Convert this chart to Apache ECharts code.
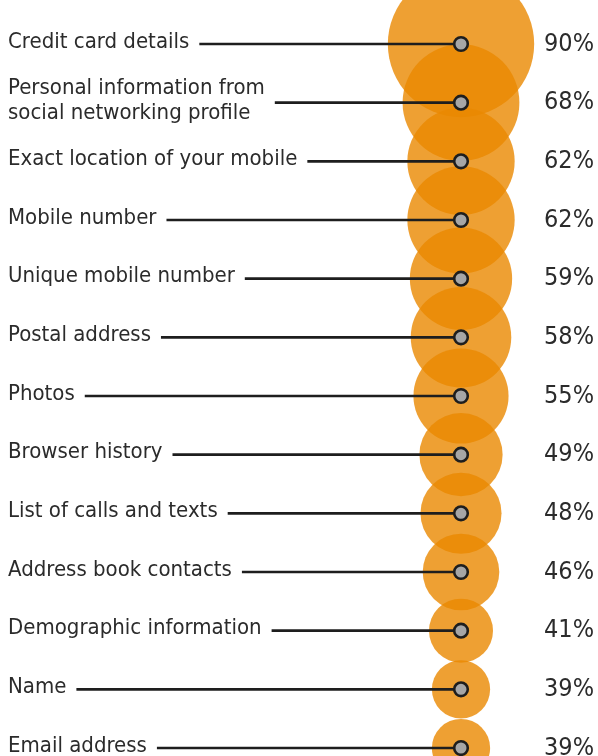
<!DOCTYPE html>
<html>
<head>
<meta charset="utf-8">
<script src="https://cdn.jsdelivr.net/npm/echarts@6/dist/echarts.min.js"></script>
<style>
html,body{margin:0;padding:0;background:#fff;}
#chart{width:598px;height:756px;}
</style>
</head>
<body>
<div id="chart"></div>
<script>
const categories = [
  'Credit card details',
  'Personal information from\nsocial networking profile',
  'Exact location of your mobile',
  'Mobile number',
  'Unique mobile number',
  'Postal address',
  'Photos',
  'Browser history',
  'List of calls and texts',
  'Address book contacts',
  'Demographic information',
  'Name',
  'Email address'
];
const values = [90, 68, 62, 62, 59, 58, 55, 49, 48, 46, 41, 39, 39];
const xCategory = ['share'];

const FONT = '"Liberation Sans Narrow", "DejaVu Sans Condensed", "Noto Sans", sans-serif';

const chart = echarts.init(document.getElementById('chart'));
chart.setOption({
  animation: false,
  backgroundColor: '#fff',
  grid: { left: 366, right: 42, top: 44, bottom: 8 },
  xAxis: { type: 'category', data: xCategory, show: false, boundaryGap: true },
  yAxis: { type: 'category', data: categories, inverse: true, boundaryGap: false, show: false },
  series: [
    {
      type: 'scatter',
      z: 1,
      data: values.map((v, i) => [0, i, v]),
      symbolSize: d => 2 * 9.4 * Math.sqrt(Math.max(d[2] - 29.4, 1)),
      itemStyle: { color: 'rgb(234,136,0)', opacity: 0.8 },
      emphasis: { disabled: true },
      silent: true
    },
    {
      type: 'custom',
      z: 5,
      clip: false,
      data: values.map((v, i) => [0, i, v]),
      renderItem: (params, api) => {
        const i = api.value(1);
        const p = api.coord([api.value(0), i]);
        const W = api.getWidth();
        return {
          type: 'group',
          children: [
            {
              type: 'line',
              shape: { x1: 8, y1: p[1], x2: p[0], y2: p[1] },
              style: { stroke: '#1e1e1e', lineWidth: 2.6 }
            },
            {
              type: 'text',
              x: 8,
              y: p[1] - 2,
              style: {
                text: categories[i],
                fill: '#2b2b2b',
                font: '22px ' + FONT,
                lineHeight: 25,
                align: 'left',
                verticalAlign: 'middle',
                backgroundColor: '#fff',
                padding: [2, 10, 2, 0]
              }
            },
            {
              type: 'circle',
              shape: { cx: p[0], cy: p[1], r: 6.8 },
              style: { fill: '#a6a6a6', stroke: '#1e1e1e', lineWidth: 2.6 }
            },
            {
              type: 'text',
              x: W - 4,
              y: p[1],
              style: {
                text: api.value(2) + '%',
                fill: '#2b2b2b',
                font: '25px ' + FONT,
                align: 'right',
                verticalAlign: 'middle'
              }
            }
          ]
        };
      }
    }
  ]
});
</script>
</body>
</html>
